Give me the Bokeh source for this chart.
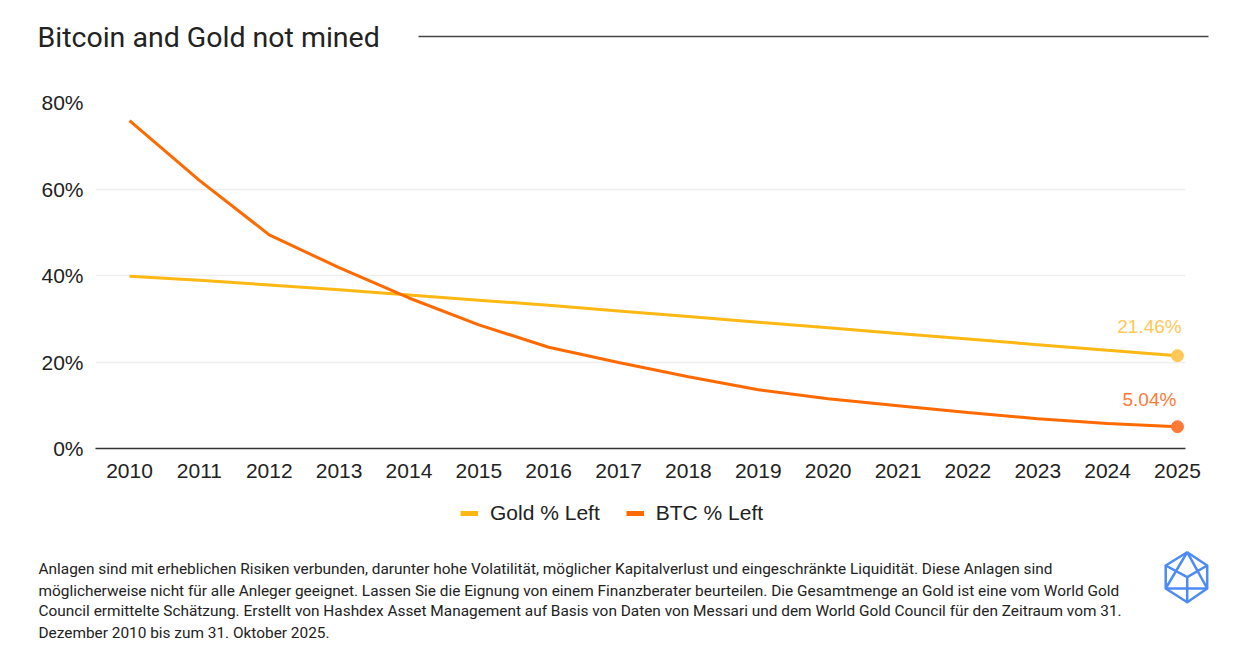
from bokeh.plotting import figure
from bokeh.layouts import column
from bokeh.models import (Range1d, FixedTicker, PrintfTickFormatter, Legend, LegendItem,
                          ColumnDataSource)
from bokeh.core.properties import value
from bokeh.embed import file_html
from bokeh.resources import INLINE

# ---------------- data ----------------
years = [2010, 2011, 2012, 2013, 2014, 2015, 2016, 2017, 2018, 2019,
         2020, 2021, 2022, 2023, 2024, 2025]
gold_left = [39.8, 38.9, 37.8, 36.7, 35.5, 34.3, 33.1, 31.8, 30.5, 29.2,
             27.9, 26.6, 25.3, 24.0, 22.7, 21.46]
btc_left = [75.8, 62.0, 49.4, 41.8, 34.8, 28.6, 23.4, 19.9, 16.6, 13.6,
            11.5, 9.9, 8.3, 6.9, 5.8, 5.04]
y_ticks = [0, 20, 40, 60, 80]
title_text = "Bitcoin and Gold not mined"
series_names = ["Gold % Left", "BTC % Left"]
footer_lines = [
    "Anlagen sind mit erheblichen Risiken verbunden, darunter hohe Volatilität, möglicher Kapitalverlust und eingeschränkte Liquidität. Diese Anlagen sind",
    "möglicherweise nicht für alle Anleger geeignet. Lassen Sie die Eignung von einem Finanzberater beurteilen. Die Gesamtmenge an Gold ist eine vom World Gold",
    "Council ermittelte Schätzung. Erstellt von Hashdex Asset Management auf Basis von Daten von Messari und dem World Gold Council für den Zeitraum vom 31.",
    "Dezember 2010 bis zum 31. Oktober 2025.",
]

W = 1248
GOLD = "#FDB813"
GOLD_END = "#FFC857"
BTC = "#FF6A00"
BTC_END = "#FF7A36"
TEXT = "#222222"
AXIS_FONT = "Liberation Sans"


def blank_fig(h):
    f = figure(width=W, height=h, x_range=Range1d(0, W), y_range=Range1d(h, 0),
               output_backend="svg", toolbar_location=None, min_border=0,
               outline_line_color=None, background_fill_color="white",
               border_fill_color="white", frame_align=False)
    f.axis.visible = False
    f.grid.visible = False
    return f


# ---------------- header ----------------
top_h = 78
top = blank_fig(top_h)
top.text(x=[37], y=[37], text=[title_text], text_font=value("Roboto"),
         text_font_size="28.5px", text_color=TEXT, text_baseline="middle",
         text_align="left")
top.segment(x0=[418], y0=[36], x1=[1208], y1=[36], line_color="#444444", line_width=1.5)

# ---------------- main chart ----------------
main_h = 412
p = figure(width=W, height=main_h, x_range=Range1d(2009.513, 2025.115),
           y_range=Range1d(0, 80), output_backend="svg", toolbar_location=None,
           min_border_left=95, min_border_right=63, min_border_top=24,
           min_border_bottom=42, outline_line_color=None,
           background_fill_color="white", border_fill_color="white",
           frame_align=False)

src = ColumnDataSource(dict(year=years, gold=gold_left, btc=btc_left))
r_gold = p.line("year", "gold", source=src, line_color=GOLD, line_width=3)
r_btc = p.line("year", "btc", source=src, line_color=BTC, line_width=3)

end = dict(year=[years[-1]], gold=[gold_left[-1]], btc=[btc_left[-1]],
           gold_lbl=[f"{gold_left[-1]:.2f}%"], btc_lbl=[f"{btc_left[-1]:.2f}%"])
end_src = ColumnDataSource(end)
p.scatter("year", "gold", source=end_src, size=12, fill_color=GOLD_END, line_color=GOLD_END)
p.scatter("year", "btc", source=end_src, size=12, fill_color=BTC_END, line_color=BTC_END)
p.text("year", "gold", text="gold_lbl", source=end_src, x_offset=-28, y_offset=-29,
       text_align="center", text_baseline="middle", text_font=value(AXIS_FONT),
       text_font_size="19px", text_color=GOLD_END)
p.text("year", "btc", text="btc_lbl", source=end_src, x_offset=-28, y_offset=-27,
       text_align="center", text_baseline="middle", text_font=value(AXIS_FONT),
       text_font_size="19px", text_color=BTC_END)

p.xgrid.visible = False
p.ygrid.grid_line_color = "#EEEEEE"
p.ygrid.grid_line_width = 1.5
p.yaxis.ticker = FixedTicker(ticks=y_ticks)
p.yaxis.formatter = PrintfTickFormatter(format="%d%%")
p.xaxis.ticker = FixedTicker(ticks=years)
p.xaxis.formatter = PrintfTickFormatter(format="%d")
for ax in (p.xaxis[0], p.yaxis[0]):
    ax.major_tick_line_color = None
    ax.minor_tick_line_color = None
    ax.major_tick_out = 0
    ax.major_tick_in = 0
    ax.minor_tick_out = 0
    ax.major_label_text_font = AXIS_FONT
    ax.major_label_text_font_size = "21px"
    ax.major_label_text_color = TEXT
    ax.major_label_standoff = 12
p.xaxis.major_label_standoff = 15
p.yaxis.axis_line_color = None
p.xaxis.axis_line_color = "#333333"
p.xaxis.axis_line_width = 1.5

# ---------------- legend strip ----------------
leg_h = 45
lg = figure(width=W, height=leg_h, x_range=Range1d(0, 1), y_range=Range1d(0, 1),
            output_backend="svg", toolbar_location=None, min_border=0,
            outline_line_color=None, background_fill_color="white",
            border_fill_color="white", frame_align=False)
lg.axis.visible = False
lg.grid.visible = False
# proxy renderers (placed outside the visible range) that only feed the legend
d_gold = lg.line(x=[-5, -4], y=[-5, -5], line_color=GOLD, line_width=5)
d_btc = lg.line(x=[-5, -4], y=[-5, -5], line_color=BTC, line_width=5)
legend = Legend(items=[LegendItem(label=series_names[0], renderers=[d_gold]),
                       LegendItem(label=series_names[1], renderers=[d_btc])],
                orientation="horizontal", location=(460, 10),
                label_text_font=AXIS_FONT, label_text_font_size="21px",
                label_text_color=TEXT, glyph_width=18, glyph_height=24,
                label_height=24, label_standoff=12, spacing=26,
                border_line_color=None, background_fill_alpha=0,
                padding=0, margin=0)
lg.add_layout(legend)

# ---------------- footer ----------------
bot_h = 125
bot = blank_fig(bot_h)
bot.text(x=[38] * len(footer_lines), y=[33, 55, 75, 97], text=footer_lines,
         text_font=value("Roboto"), text_font_size="15.4px",
         text_color=TEXT, text_baseline="middle", text_align="left")

# logo (decoration)
cx, cy = 1186.7, 41.7
top_v = (cx, 16.7)
ur = (cx + 20, 30)
lr = (cx + 20, 53)
bt = (cx, 66.7)
ll = (cx - 21.5, 53)
ul = (cx - 21.5, 30)
hx = [top_v[0], ur[0], lr[0], bt[0], ll[0], ul[0], top_v[0]]
hy = [top_v[1], ur[1], lr[1], bt[1], ll[1], ul[1], top_v[1]]
LOGO = "#4C8BF5"
bot.line(hx, hy, line_color=LOGO, line_width=2.5, line_join="round")
bot.multi_line(xs=[[ll[0], top_v[0], lr[0]], [ll[0], lr[0]], [ul[0], cx, ur[0]], [cx, bt[0]]],
               ys=[[ll[1], top_v[1], lr[1]], [ll[1], lr[1]], [ul[1], cy, ur[1]], [cy, bt[1]]],
               line_color=LOGO, line_width=2.5)

layout = column(top, p, lg, bot)
open("out.html", "w").write(file_html(layout, INLINE))
